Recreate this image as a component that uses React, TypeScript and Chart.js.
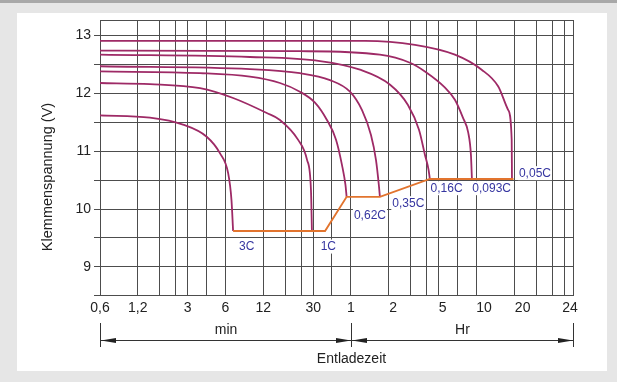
import React, { useEffect, useRef } from 'react';
import { Chart, registerables } from 'chart.js';

Chart.register(...registerables);

// Discharge rate names (curve labels)
const rateNames = ['3C', '1C', '0,62C', '0,35C', '0,16C', '0,093C', '0,05C'];

// Discharge time in minutes, terminal voltage in V
const time3C = [0.6, 1.5, 2.75, 4.25, 5.4, 6.3, 6.7, 6.9];
const volt3C = [11.62, 11.58, 11.46, 11.25, 10.97, 10.62, 10.15, 9.62];

const time1C = [0.6, 1.5, 3.76, 6.9, 12.8, 16.3, 22.7, 26.8, 28.8, 29.3];
const volt1C = [12.18, 12.16, 12.09, 11.92, 11.66, 11.54, 11.2, 10.85, 10.33, 9.62];

const time062 = [0.6, 3.76, 9.4, 16.3, 23.5, 31, 38.6, 45.6, 50.9, 54.2, 55.4];
const volt062 = [12.38, 12.35, 12.29, 12.18, 12.03, 11.84, 11.54, 11.2, 10.76, 10.42, 10.21];

const time035 = [0.6, 9.4, 23.5, 40.8, 58.9, 73.5, 86.6, 94.9, 100, 102];
const volt035 = [12.47, 12.42, 12.35, 12.23, 12.03, 11.71, 11.28, 10.85, 10.42, 10.21];

const time016 = [0.6, 9.4, 34, 70.8, 123, 170.7, 209, 233, 249, 255];
const volt016 = [12.67, 12.63, 12.56, 12.41, 12.15, 11.8, 11.37, 10.94, 10.68, 10.52];

const time0093 = [0.6, 23.5, 102, 177, 233, 337, 404, 468, 516, 542, 552];
const volt0093 = [12.74, 12.73, 12.67, 12.53, 12.38, 12.1, 11.89, 11.58, 11.32, 10.94, 10.52];

const time005 = [0.6, 77.6, 194, 404, 660, 895, 1075, 1145, 1151];
const volt005 = [12.91, 12.91, 12.84, 12.67, 12.41, 12.12, 11.71, 11.2, 10.52];

// End-of-discharge voltage line
const cutoffTime = [6.9, 37.3, 55.4, 102, 255, 1184];
const cutoffVolt = [9.62, 9.62, 10.21, 10.21, 10.52, 10.52];

// Curve label anchors (minutes, V)
const labelTime = [8.86, 39.6, 85, 171.8, 347, 793, 1755];
const labelVolt = [9.35, 9.35, 9.9, 10.1, 10.36, 10.36, 10.62];

// X axis: grid line values (minutes) and tick labels
const gridTimes = [0.6, 1.2, 1.8, 2.4, 3, 4.2, 6, 12, 18, 24, 30, 42, 60, 120, 180, 240, 300, 420, 600, 1200, 1800, 2400, 3000, 3573];
const tickTimes = [0.6, 1.2, 3, 6, 12, 30, 60, 130, 323, 689, 1400, 3336];
const tickTexts = ['0,6', '1,2', '3', '6', '12', '30', '1', '2', '5', '10', '20', '24'];

// Y axis
const yGridValues = [8.5, 9, 9.5, 10, 10.5, 11, 11.5, 12, 12.5, 13, 13.27];

const X_MIN = 0.6;
const X_MAX = 3573;
const Y_MIN = 8.5;
const Y_MAX = 13.27;

const FONT = '"Liberation Sans", Arial, sans-serif';
const CURVE = '#9e2a66';
const ORANGE = '#e2742e';
const BLUE = '#3535a0';
const GRID = '#4d4d4d';
const TEXT = '#222222';

function toPoints(t: number[], v: number[]) {
  return t.map((x, i) => ({ x, y: v[i] }));
}

const curves = [
  [time3C, volt3C],
  [time1C, volt1C],
  [time062, volt062],
  [time035, volt035],
  [time016, volt016],
  [time0093, volt0093],
  [time005, volt005],
];

function arrowHead(ctx: CanvasRenderingContext2D, tipX: number, y: number, dir: number) {
  const len = 15;
  const h = 2.6;
  ctx.beginPath();
  ctx.moveTo(tipX, y);
  ctx.lineTo(tipX - dir * len, y - h);
  ctx.lineTo(tipX - dir * len, y + h);
  ctx.closePath();
  ctx.fill();
}

const decorPlugin = {
  id: 'decor',
  beforeDraw(chart: any) {
    const ctx = chart.ctx as CanvasRenderingContext2D;
    ctx.save();
    ctx.fillStyle = '#ffffff';
    ctx.fillRect(0, 0, 630, 382);
    ctx.fillStyle = '#e6e6e6';
    ctx.fillRect(0, 0, 617, 382);
    ctx.fillStyle = '#a8a8a8';
    ctx.fillRect(0, 0, 617, 3);
    ctx.fillStyle = '#ffffff';
    ctx.fillRect(17, 13, 590, 358);
    ctx.restore();
  },
  afterDatasetsDraw(chart: any) {
    const ctx = chart.ctx as CanvasRenderingContext2D;
    const xs = chart.scales.x;
    const ys = chart.scales.y;
    ctx.save();
    ctx.font = `12px ${FONT}`;
    ctx.textAlign = 'center';
    ctx.textBaseline = 'middle';
    rateNames.forEach((name, i) => {
      const px = xs.getPixelForValue(labelTime[i]);
      const py = ys.getPixelForValue(labelVolt[i]);
      const w = ctx.measureText(name).width;
      ctx.fillStyle = '#ffffff';
      ctx.fillRect(px - w / 2 - 1, py - 7, w + 2, 14);
      ctx.fillStyle = BLUE;
      ctx.fillText(name, px, py + 0.5);
    });
    ctx.restore();
  },
  afterDraw(chart: any) {
    const ctx = chart.ctx as CanvasRenderingContext2D;
    const xs = chart.scales.x;
    const x0 = Math.round(xs.getPixelForValue(X_MIN)) + 0.5;
    const xm = Math.round(xs.getPixelForValue(60)) + 0.5;
    const x1 = Math.round(xs.getPixelForValue(X_MAX)) - 0.5;
    const yLine = 340.5;
    ctx.save();
    ctx.strokeStyle = '#333333';
    ctx.fillStyle = '#222222';
    ctx.lineWidth = 1;
    ctx.beginPath();
    ctx.moveTo(x0, yLine);
    ctx.lineTo(x1, yLine);
    [x0, xm, x1].forEach((x) => {
      ctx.moveTo(x, 323);
      ctx.lineTo(x, 347);
    });
    ctx.stroke();
    arrowHead(ctx, x0 + 0.5, yLine, -1);
    arrowHead(ctx, xm - 0.5, yLine, 1);
    arrowHead(ctx, xm + 0.5, yLine, -1);
    arrowHead(ctx, x1 - 0.5, yLine, 1);

    ctx.font = `14px ${FONT}`;
    ctx.textAlign = 'center';
    ctx.textBaseline = 'middle';
    ctx.fillStyle = TEXT;
    ctx.fillText('min', (x0 + xm) / 2, 330);
    ctx.fillText('Hr', (xm + x1) / 2, 330);
    ctx.fillText('Entladezeit', xm, 359);

    // y axis title
    ctx.translate(48, 177);
    ctx.rotate(-Math.PI / 2);
    ctx.font = `14.5px ${FONT}`;
    ctx.fillText('Klemmenspannung (V)', 0, 0);
    ctx.restore();
  },
};

export default function App() {
  const canvasRef = useRef<HTMLCanvasElement | null>(null);

  useEffect(() => {
    const canvas = canvasRef.current;
    if (!canvas) return;

    const datasets: any[] = curves.map(([t, v], i) => ({
      label: rateNames[i],
      data: toPoints(t as number[], v as number[]),
      borderColor: CURVE,
      borderWidth: 1.8,
      pointRadius: 0,
      fill: false,
      cubicInterpolationMode: 'monotone',
      order: 2,
    }));
    datasets.push({
      label: 'cutoff',
      data: toPoints(cutoffTime, cutoffVolt),
      borderColor: ORANGE,
      borderWidth: 1.9,
      pointRadius: 0,
      fill: false,
      tension: 0,
      order: 1,
    });

    const chart = new Chart(canvas, {
      type: 'line',
      data: { datasets },
      plugins: [decorPlugin],
      options: {
        animation: false,
        responsive: false,
        devicePixelRatio: 1,
        parsing: false,
        normalized: true,
        layout: { padding: { left: 0, top: 20, right: 56.3, bottom: 0 } },
        plugins: {
          legend: { display: false },
          tooltip: { enabled: false },
          title: { display: false },
        },
        scales: {
          xl: {
            type: 'logarithmic',
            axis: 'x',
            position: 'bottom',
            weight: 0,
            min: X_MIN,
            max: X_MAX,
            grid: { display: false, drawTicks: false },
            border: { display: true, color: GRID, width: 1 },
            afterBuildTicks: (scale: any) => {
              scale.ticks = tickTimes.map((v) => ({ value: v }));
            },
            afterFit: (scale: any) => {
              scale.height = 24;
            },
            ticks: {
              autoSkip: false,
              maxRotation: 0,
              minRotation: 0,
              padding: 4,
              color: TEXT,
              font: { family: FONT, size: 14 },
              callback: (_v: any, i: number) => tickTexts[i],
            },
          },
          x: {
            type: 'logarithmic',
            position: 'bottom',
            weight: 1,
            min: X_MIN,
            max: X_MAX,
            grid: { display: true, color: GRID, lineWidth: 1, drawTicks: false },
            border: { display: false },
            afterBuildTicks: (scale: any) => {
              scale.ticks = gridTimes.map((v) => ({ value: v }));
            },
            afterFit: (scale: any) => {
              scale.height = 62.3;
            },
            ticks: { display: false },
          },
          y: {
            type: 'linear',
            position: 'left',
            min: Y_MIN,
            max: Y_MAX,
            grid: {
              display: true,
              color: GRID,
              lineWidth: 1,
              drawTicks: true,
              tickLength: 6,
              tickColor: (c: any) => (c.tick && c.tick.value > 13.1 ? 'rgba(0,0,0,0)' : GRID),
            },
            border: { display: true, color: GRID, width: 1 },
            afterBuildTicks: (scale: any) => {
              scale.ticks = yGridValues.map((v) => ({ value: v }));
            },
            afterFit: (scale: any) => {
              scale.width = 100;
            },
            ticks: {
              padding: 3,
              color: TEXT,
              font: { family: FONT, size: 14 },
              callback: (v: any) => (Number.isInteger(v) ? String(v) : ''),
            },
          },
        },
      } as any,
    });

    return () => {
      chart.destroy();
    };
  }, []);

  return (
    <div style={{ position: 'absolute', left: 0, top: 0, width: 630, height: 382 }}>
      <canvas ref={canvasRef} width={630} height={382} style={{ display: 'block' }} />
    </div>
  );
}
